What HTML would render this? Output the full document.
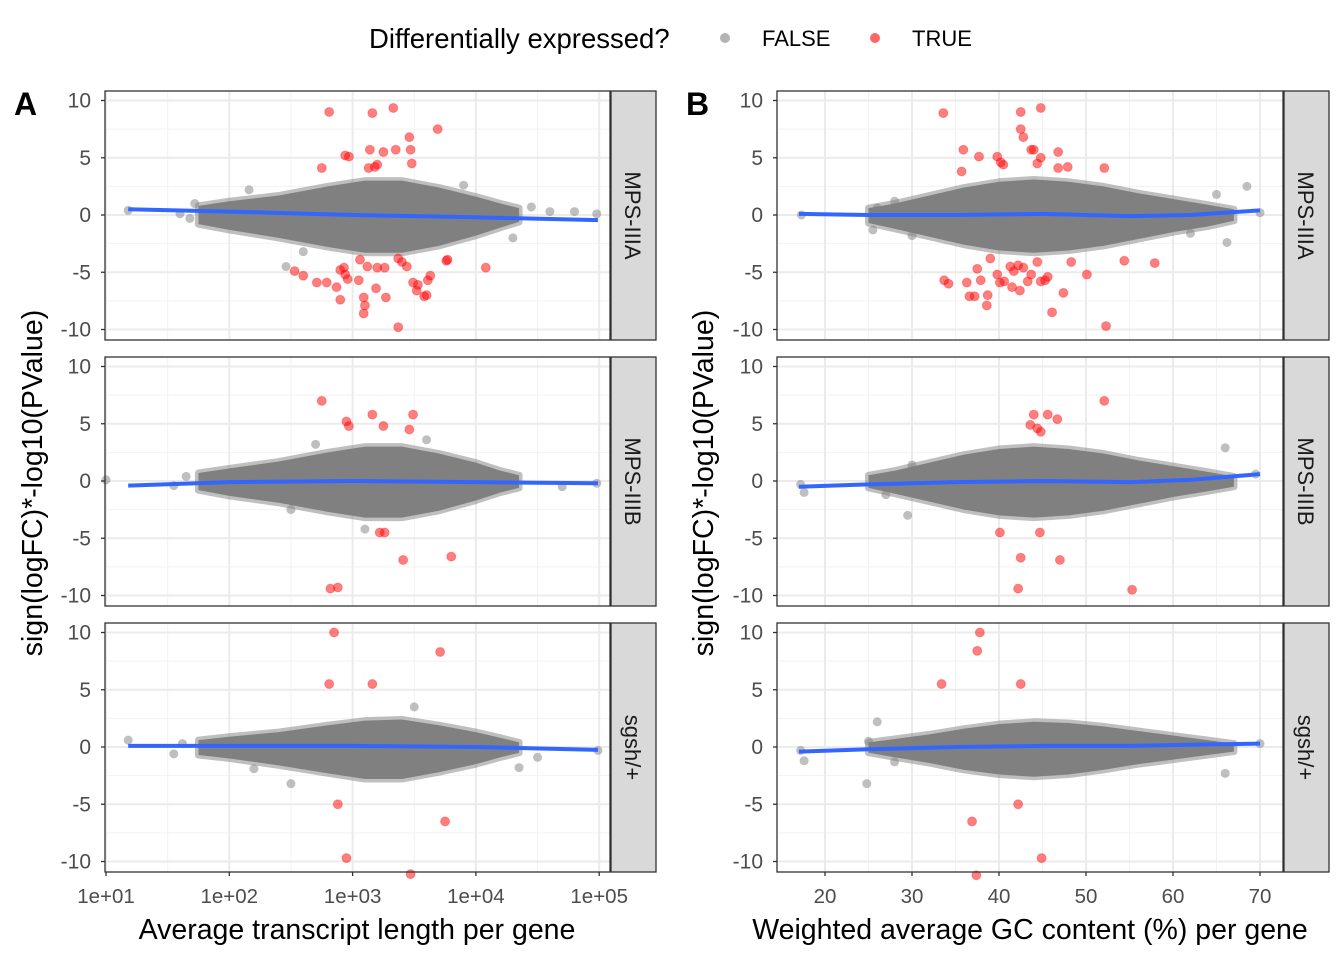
<!DOCTYPE html>
<html><head><meta charset="utf-8"><style>
body{margin:0;background:#fff}
svg{display:block;font-family:"Liberation Sans",Arial,sans-serif}
</style></head><body>
<svg id="chart" width="1344" height="960" viewBox="0 0 1344 960"></svg>
<script>
// ---- data ----
const facets = ["MPS-IIIA","MPS-IIIB","sgsh/+"];
const yTicks = [-10,-5,0,5,10];
const yTickLabels = ["-10","-5","0","5","10"];
const aTicks = [1,2,3,4,5];
const aTickLabels = ["1e+01","1e+02","1e+03","1e+04","1e+05"];
const bTicks = [20,30,40,50,60,70];
const bTickLabels = ["20","30","40","50","60","70"];
// Grey cloud envelopes (x, upper, lower) per facet
const aEnvX = [1.75,2.0,2.4,2.8,3.1,3.4,3.7,4.0,4.2,4.35];
const aEnvUp = [[0.8,1.2,1.7,2.5,3.0,3.0,2.4,1.6,1.0,0.6],[0.7,1.1,1.7,2.5,3.0,3.0,2.4,1.6,0.9,0.5],[0.6,0.9,1.3,1.9,2.3,2.4,1.9,1.3,0.8,0.4]];
const aEnvLo = [[-0.8,-1.3,-2.0,-2.8,-3.3,-3.3,-2.7,-1.8,-1.1,-0.6],[-0.8,-1.3,-1.9,-2.7,-3.2,-3.2,-2.6,-1.7,-1.0,-0.6],[-0.7,-1.0,-1.6,-2.3,-2.8,-2.8,-2.2,-1.5,-0.9,-0.5]];
const bEnvX = [25,28,32,36,40,44,48,52,56,60,64,67];
const bEnvUp = [[0.6,1.0,1.7,2.4,2.9,3.1,2.9,2.5,1.9,1.4,0.9,0.5],[0.5,0.9,1.6,2.3,2.8,3.0,2.8,2.4,1.8,1.3,0.8,0.4],[0.4,0.7,1.1,1.6,2.0,2.2,2.1,1.8,1.4,1.0,0.6,0.3]];
const bEnvLo = [[-0.7,-1.2,-1.9,-2.6,-3.1,-3.3,-3.1,-2.7,-2.1,-1.5,-1.0,-0.5],[-0.6,-1.1,-1.8,-2.5,-3.0,-3.2,-3.0,-2.6,-2.0,-1.4,-0.9,-0.5],[-0.5,-0.9,-1.4,-2.0,-2.4,-2.6,-2.4,-2.0,-1.5,-1.1,-0.7,-0.4]];
// Grey stragglers
const aGreyX = [[1.18,1.6,1.68,1.72,2.16,2.46,4.45,4.6,4.8,4.98,2.6,3.9,4.3],[1.0,1.55,1.65,4.98,4.7,2.5,3.1,3.6,2.7],[1.18,1.55,1.62,4.99,4.35,2.5,2.2,3.5,4.5]];
const aGreyY = [[0.4,0.1,-0.3,1.0,2.2,-4.5,0.7,0.3,0.3,0.1,-3.2,2.6,-2.0],[0.1,-0.4,0.4,-0.2,-0.5,-2.5,-4.2,3.6,3.2],[0.6,-0.6,0.3,-0.3,-1.8,-3.2,-1.9,3.5,-0.9]];
const bGreyX = [[17.3,25.5,26,30,66.2,68.5,70,65,28,62],[17.2,17.6,27,69.5,66,29.5,30],[17.2,17.6,25,26,70,66,24.8,28]];
const bGreyY = [[0.0,-1.3,0.6,-1.8,-2.4,2.5,0.2,1.8,1.2,-1.6],[-0.3,-1.0,-1.2,0.6,2.9,-3.0,1.4],[-0.3,-1.2,0.5,2.2,0.3,-2.3,-3.2,-1.3]];
// Red (DE) points
const aRedX = [
 [2.81,3.16,3.33,3.46,3.69,2.94,2.97,3.14,3.25,3.20,3.35,3.47,3.13,3.18,2.75,3.48,2.53,2.60,2.71,2.79,2.90,2.94,2.96,2.93,3.06,3.12,3.20,3.26,3.19,3.27,3.09,3.10,3.09,3.37,3.40,3.44,3.49,3.52,3.53,3.58,3.60,3.61,3.63,3.76,3.77,4.08,3.37,2.90,3.05,2.87],
 [2.75,2.95,2.97,3.16,3.25,3.49,3.46,3.22,3.26,3.41,3.80,2.82,2.88],
 [2.85,2.81,3.16,3.71,2.88,3.75,2.95,3.47]];
const aRedY = [
 [9.0,8.9,9.35,6.8,7.5,5.2,5.1,5.7,5.5,4.4,5.7,5.7,4.1,4.2,4.1,4.5,-4.9,-5.3,-5.9,-5.9,-4.8,-5.2,-5.6,-4.6,-3.9,-4.5,-4.6,-4.6,-6.4,-7.2,-7.2,-7.9,-8.6,-3.8,-4.1,-4.5,-5.9,-6.6,-6.1,-7.1,-7.0,-5.7,-5.3,-4.0,-3.9,-4.6,-9.8,-7.4,-5.7,-6.3],
 [7.0,5.2,4.8,5.8,4.8,5.8,4.5,-4.5,-4.5,-6.9,-6.6,-9.4,-9.3],
 [10.0,5.5,5.5,8.3,-5.0,-6.5,-9.7,-11.1]];
const bRedX = [
 [33.6,42.5,44.8,42.5,42.8,43.7,44.0,35.9,37.7,39.8,40.5,40.2,44.4,44.8,46.8,47.9,52.1,46.8,35.7,33.7,34.2,36.3,36.6,37.2,38.6,38.7,37.5,39.0,37.9,39.8,40.6,41.3,41.7,42.4,42.8,43.3,43.7,44.4,44.8,45.3,45.6,46.1,47.4,48.3,50.1,52.3,54.4,57.9,42.2,40.1,41.5],
 [52.1,44.0,45.6,46.7,43.6,44.4,44.8,40.1,44.7,42.5,47.0,42.2,55.3],
 [37.8,37.5,33.4,42.5,42.2,36.9,44.9,37.4]];
const bRedY = [
 [8.9,9.0,9.35,7.5,6.8,5.7,5.7,5.7,5.1,5.1,4.4,4.6,4.5,5.0,5.5,4.2,4.1,4.1,3.8,-5.7,-6.0,-5.9,-7.1,-7.1,-7.9,-7.0,-4.7,-3.8,-5.7,-5.2,-5.8,-4.5,-4.9,-6.6,-4.6,-5.8,-5.2,-4.1,-5.8,-5.7,-5.4,-8.5,-6.8,-4.1,-5.2,-9.7,-4.0,-4.2,-4.4,-5.9,-6.3],
 [7.0,5.8,5.8,5.4,4.9,4.6,4.3,-4.5,-4.5,-6.7,-6.9,-9.4,-9.5],
 [10.0,8.4,5.5,5.5,-5.0,-6.5,-9.7,-11.2]];
// loess fits
const aFitX = [1.18,2.0,3.0,4.0,4.99];
const aFitY = [[0.5,0.3,0.0,-0.2,-0.45],[-0.4,-0.1,0.0,-0.1,-0.2],[0.1,0.1,0.1,0.0,-0.25]];
const bFitX = [17,25,35,45,55,62,70];
const bFitY = [[0.1,0.0,0.0,0.1,-0.1,0.0,0.4],[-0.5,-0.3,-0.1,0.0,-0.1,0.1,0.6],[-0.4,-0.2,0.0,0.1,0.1,0.2,0.3]];

// ---- layout ----
const NS="http://www.w3.org/2000/svg";
const svg=document.getElementById('chart');
function el(tag,attrs,parent){const e=document.createElementNS(NS,tag);for(const k in attrs)e.setAttribute(k,attrs[k]);(parent||svg).appendChild(e);return e;}
const rowsTop=[91,357,623], rowH=249;
const panels=[{x0:105,x1:610,sx:v=>106+(v-1)*123.3,ticks:aTicks,labels:aTickLabels,minor:[1.5,2.5,3.5,4.5],envX:aEnvX,envUp:aEnvUp,envLo:aEnvLo,gx:aGreyX,gy:aGreyY,rx:aRedX,ry:aRedY,fx:aFitX,fy:aFitY,name:'a'},
 {x0:777,x1:1283,sx:v=>825+(v-20)*8.7,ticks:bTicks,labels:bTickLabels,minor:[25,35,45,55,65],envX:bEnvX,envUp:bEnvUp,envLo:bEnvLo,gx:bGreyX,gy:bGreyY,rx:bRedX,ry:bRedY,fx:bFitX,fy:bFitY,name:'b'}];
panels.forEach(p=>{
 facets.forEach((f,r)=>{
  const top=rowsTop[r], zero=top+124, sy=v=>zero-v*11.45;
  const g=el('g',{});
  
  
  el('rect',{x:p.x0,y:top,width:p.x1-p.x0,height:rowH,fill:'#fff'},g);
  [-7.5,-2.5,2.5,7.5].forEach(v=>el('line',{x1:p.x0,x2:p.x1,y1:sy(v),y2:sy(v),stroke:'#f2f2f2','stroke-width':1},g));
  p.minor.forEach(v=>el('line',{x1:p.sx(v),x2:p.sx(v),y1:top,y2:top+rowH,stroke:'#f2f2f2','stroke-width':1},g));
  yTicks.forEach(v=>el('line',{x1:p.x0,x2:p.x1,y1:sy(v),y2:sy(v),stroke:'#ebebeb','stroke-width':2},g));
  p.ticks.forEach(v=>el('line',{x1:p.sx(v),x2:p.sx(v),y1:top,y2:top+rowH,stroke:'#ebebeb','stroke-width':2},g));
  let d='';
  p.envX.forEach((x,i)=>{d+=(i?'L':'M')+p.sx(x)+','+sy(p.envUp[r][i]);});
  for(let i=p.envX.length-1;i>=0;i--)d+='L'+p.sx(p.envX[i])+','+sy(p.envLo[r][i]);
  const c=el('path',{d:d+'Z',fill:'#808080',stroke:'rgba(128,128,128,0.5)','stroke-width':7,'stroke-linejoin':'round'},g);
  
  
  p.gx[r].forEach((x,i)=>{const e=el('circle',{cx:p.sx(x),cy:sy(p.gy[r][i]),r:4.5,fill:'rgba(128,128,128,0.5)'},g);
   
   });
  p.rx[r].forEach((x,i)=>{const e=el('circle',{cx:p.sx(x),cy:sy(p.ry[r][i]),r:4.5,fill:'rgba(255,0,0,0.5)',stroke:'rgba(255,0,0,0.3)','stroke-width':1},g);
   
   });
  const fl=el('polyline',{points:p.fx.map((x,i)=>p.sx(x)+','+sy(p.fy[r][i])).join(' '),fill:'none',stroke:'#3366ff','stroke-width':4},g);
  
  
  el('rect',{x:p.x0,y:top,width:p.x1-p.x0,height:rowH,fill:'none',stroke:'#333','stroke-width':1.3},g);
  const s=el('rect',{x:p.x1+1,y:top,width:45,height:rowH,fill:'#d9d9d9',stroke:'#333','stroke-width':1.3});
  
  
  const st=el('text',{x:0,y:0,transform:`translate(${p.x1+15},${top+rowH/2}) rotate(90)`,'text-anchor':'middle','font-size':22,fill:'#1a1a1a'});
  st.textContent=f;
  
  
  yTicks.forEach((v,i)=>{
   el('line',{x1:p.x0-4,x2:p.x0,y1:sy(v),y2:sy(v),stroke:'#333','stroke-width':1.3});
   const t=el('text',{x:p.x0-14,y:sy(v)+7,'text-anchor':'end','font-size':21,fill:'#4d4d4d'});
   t.textContent=yTickLabels[i];
   
   
  });
 });
 p.ticks.forEach((v,i)=>{
  el('line',{x1:p.sx(v),x2:p.sx(v),y1:872,y2:876,stroke:'#333','stroke-width':1.3});
  const t=el('text',{x:p.sx(v),y:903,'text-anchor':'middle','font-size':20.5,fill:'#4d4d4d'});
  t.textContent=p.labels[i];
  
  
 });
});
function txt(x,y,s,size,name,extra){const t=el('text',Object.assign({x:x,y:y,'font-size':size,fill:'#000'},extra||{}));t.textContent=s;return t;}
txt(357,939,'Average transcript length per gene',28.5,'x-axis-title-a',{'text-anchor':'middle'});
txt(1030,939,'Weighted average GC content (%) per gene',28.5,'x-axis-title-b',{'text-anchor':'middle'});
txt(0,0,'sign(logFC)*-log10(PValue)',28.5,'y-axis-title-a',{'text-anchor':'middle',transform:'translate(42,483) rotate(-90)'});
txt(0,0,'sign(logFC)*-log10(PValue)',28.5,'y-axis-title-b',{'text-anchor':'middle',transform:'translate(713,483) rotate(-90)'});
txt(14,115,'A',32,'panel-label-a',{'font-weight':'bold'});
txt(686,115,'B',32,'panel-label-b',{'font-weight':'bold'});
txt(369,48,'Differentially expressed?',27.5,'legend-title');
const l1=el('circle',{cx:725,cy:38,r:5,fill:'rgba(128,128,128,0.6)'});
txt(762,46,'FALSE',22,'legend-entry-false');
const l2=el('circle',{cx:875,cy:38,r:5,fill:'rgba(255,0,0,0.6)'});
txt(912,46,'TRUE',22,'legend-entry-true');
</script>
</body></html>
